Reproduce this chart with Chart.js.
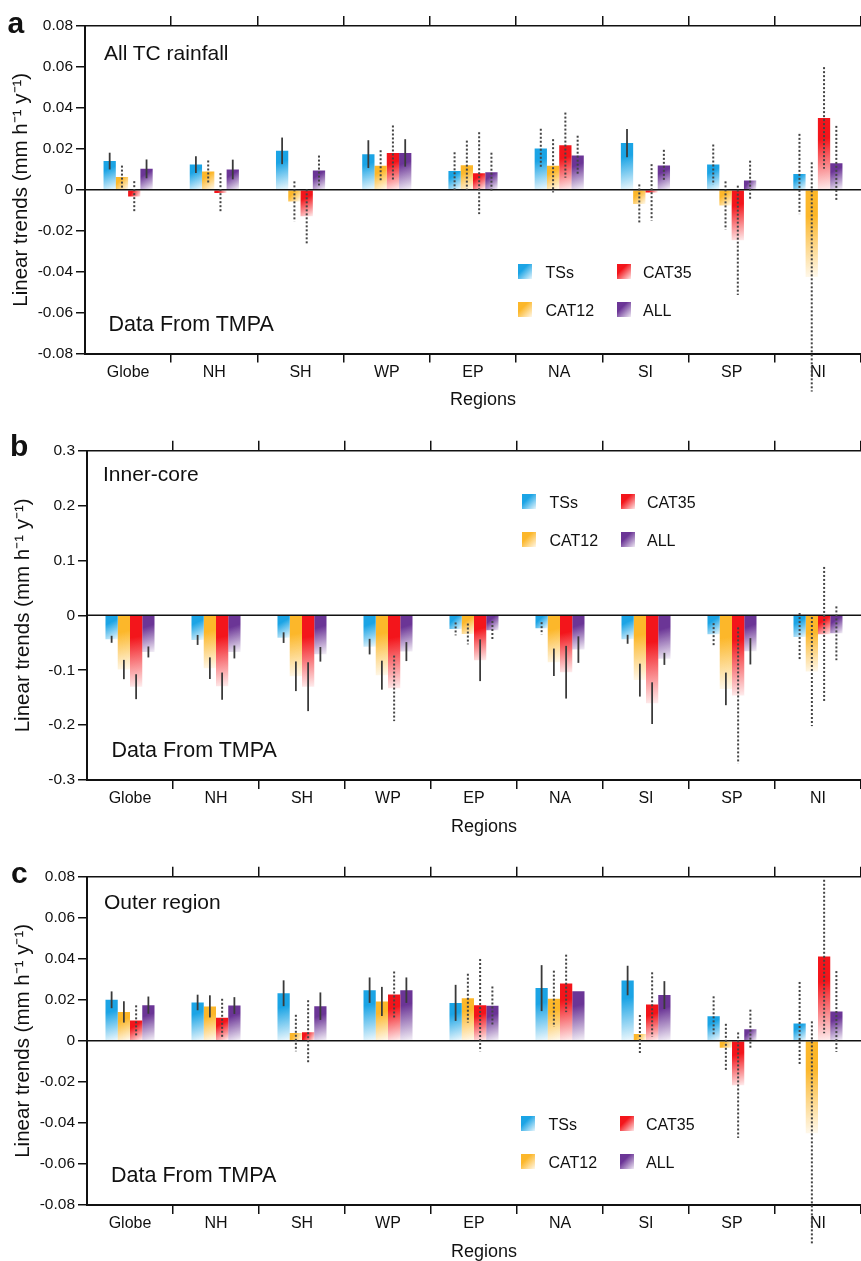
<!DOCTYPE html>
<html>
<head>
<meta charset="utf-8">
<script src="https://cdn.jsdelivr.net/npm/chart.js@4.4.1/dist/chart.umd.min.js"></script>
<style>
  html, body { margin: 0; padding: 0; background: #fff; overflow: hidden; }
  body { width: 861px; height: 1261px; position: relative; font-family: "Liberation Sans", Arial, Helvetica, sans-serif; color: #111; }
  .panel { position: absolute; left: 0; }
  .panel canvas { display: block; }
  .txt { position: absolute; white-space: nowrap; line-height: 1; }
  .sq { position: absolute; width: 14px; height: 15px; }
</style>
</head>
<body>
<div class="panel" style="top:0px"><canvas id="chartA" width="861" height="411"></canvas></div>
<div class="panel" style="top:430px"><canvas id="chartB" width="861" height="408"></canvas></div>
<div class="panel" style="top:855px"><canvas id="chartC" width="861" height="408"></canvas></div>
<script>
// Linear trends of TC rainfall by region (TMPA)
const regions = ['Globe', 'NH', 'SH', 'WP', 'EP', 'NA', 'SI', 'SP', 'NI'];
const seriesNames = ['TSs', 'CAT12', 'CAT35', 'ALL'];
const seriesColors = ['#1ba4e5', '#fcb72a', '#f3151b', '#6b3596'];

// a - All TC rainfall
const aTSs   = [0.0140, 0.0123, 0.0190, 0.0174, 0.0091, 0.0201, 0.0228, 0.0123, 0.0077];
const aCAT12 = [0.0062, 0.0089, -0.0057, 0.0117, 0.0120, 0.0117, -0.0070, -0.0077, -0.0426];
const aCAT35 = [-0.0033, -0.0016, -0.0130, 0.0180, 0.0081, 0.0218, -0.0013, -0.0247, 0.0351];
const aALL   = [0.0102, 0.0099, 0.0094, 0.0180, 0.0086, 0.0167, 0.0119, 0.0045, 0.0130];
const aTSsErr   = [0.0041, 0.0041, 0.0065, 0.0068, 0.0092, 0.0097, 0.0069, 0.0098, 0.0196];
const aCAT12Err = [0.0056, 0.0054, 0.0098, 0.0076, 0.0120, 0.0130, 0.0096, 0.0118, 0.0560];
const aCAT35Err = [0.0075, 0.0097, 0.0132, 0.0134, 0.0200, 0.0159, 0.0138, 0.0267, 0.0248];
const aALLErr   = [0.0046, 0.0048, 0.0073, 0.0067, 0.0095, 0.0097, 0.0076, 0.0097, 0.0182];
// 1 = solid (significant) error bar, 0 = dotted
const aTSsSig   = [1, 1, 1, 1, 0, 0, 1, 0, 0];
const aCAT12Sig = [0, 0, 0, 0, 0, 0, 0, 0, 0];
const aCAT35Sig = [0, 0, 0, 0, 0, 0, 0, 0, 0];
const aALLSig   = [1, 1, 0, 1, 0, 0, 0, 0, 0];

// b - Inner-core
const bTSs   = [-0.0436, -0.0448, -0.0406, -0.0570, -0.0247, -0.0236, -0.0436, -0.0345, -0.0394];
const bCAT12 = [-0.0987, -0.0963, -0.1110, -0.1090, -0.0339, -0.0855, -0.1180, -0.1340, -0.1024];
const bCAT35 = [-0.1300, -0.1290, -0.1300, -0.1330, -0.0818, -0.1036, -0.1600, -0.1460, -0.0345];
const bALL   = [-0.0667, -0.0667, -0.0710, -0.0660, -0.0273, -0.0624, -0.0793, -0.0655, -0.0327];
const bTSsErr   = [0.0064, 0.0091, 0.0097, 0.0142, 0.0118, 0.0112, 0.0082, 0.0203, 0.0436];
const bCAT12Err = [0.0176, 0.0197, 0.0270, 0.0264, 0.0190, 0.0250, 0.0300, 0.0297, 0.0994];
const bCAT35Err = [0.0227, 0.0248, 0.0445, 0.0597, 0.0380, 0.0480, 0.0380, 0.1240, 0.1227];
const bALLErr   = [0.0100, 0.0118, 0.0133, 0.0173, 0.0170, 0.0242, 0.0110, 0.0240, 0.0490];
const bTSsSig   = [1, 1, 1, 1, 0, 0, 1, 0, 0];
const bCAT12Sig = [1, 1, 1, 1, 0, 1, 1, 1, 0];
const bCAT35Sig = [1, 1, 1, 0, 1, 1, 1, 0, 0];
const bALLSig   = [1, 1, 1, 1, 0, 1, 1, 1, 0];

// c - Outer region
const cTSs   = [0.0200, 0.0187, 0.0232, 0.0247, 0.0185, 0.0257, 0.0294, 0.0120, 0.0085];
const cCAT12 = [0.0141, 0.0168, 0.0038, 0.0192, 0.0208, 0.0205, 0.0033, -0.0034, -0.0450];
const cCAT35 = [0.0099, 0.0112, 0.0042, 0.0226, 0.0174, 0.0280, 0.0177, -0.0216, 0.0411];
const cALL   = [0.0174, 0.0172, 0.0169, 0.0247, 0.0171, 0.0242, 0.0223, 0.0056, 0.0143];
const cTSsErr   = [0.0041, 0.0038, 0.0063, 0.0062, 0.0088, 0.0112, 0.0072, 0.0097, 0.0202];
const cCAT12Err = [0.0052, 0.0054, 0.0089, 0.0071, 0.0119, 0.0137, 0.0093, 0.0117, 0.0545];
const cCAT35Err = [0.0074, 0.0093, 0.0156, 0.0112, 0.0225, 0.0140, 0.0157, 0.0257, 0.0374];
const cALLErr   = [0.0042, 0.0041, 0.0067, 0.0062, 0.0094, 0, 0.0068, 0.0096, 0.0197];
const cTSsSig   = [1, 1, 1, 1, 1, 1, 1, 0, 0];
const cCAT12Sig = [1, 1, 0, 1, 0, 0, 0, 0, 0];
const cCAT35Sig = [0, 0, 0, 0, 0, 0, 0, 0, 0];
const cALLSig   = [1, 1, 1, 1, 0, 0, 1, 0, 0];

const fontFamily = '"Liberation Sans", Arial, Helvetica, sans-serif';
const ink = '#111';

// gradient fill per bar: saturated top-left, fading to white bottom-right
const barGradient = {
  id: 'barGradient',
  beforeDatasetsDraw(chart) {
    const ctx = chart.ctx;
    chart.data.datasets.forEach((ds, i) => {
      const c = seriesColors[i];
      chart.getDatasetMeta(i).data.forEach(bar => {
        const hw = bar.width / 2;
        const top = Math.min(bar.y, bar.base);
        const bottom = Math.max(bar.y, bar.base);
        const g = ctx.createLinearGradient(bar.x - hw, top, bar.x + hw, bottom);
        g.addColorStop(0, c);
        g.addColorStop(0.3, c);
        g.addColorStop(1, c + '14');
        bar.options.backgroundColor = g;
      });
    });
  }
};

// zero line + error bars (solid = significant, dotted = not)
const errorBars = {
  id: 'errorBars',
  afterDatasetsDraw(chart) {
    const {ctx, chartArea, scales: {y}} = chart;
    const y0 = y.getPixelForValue(0);
    ctx.save();
    ctx.strokeStyle = ink;
    ctx.lineWidth = 1.5;
    ctx.beginPath();
    ctx.moveTo(chartArea.left, y0);
    ctx.lineTo(chartArea.right, y0);
    ctx.stroke();
    chart.data.datasets.forEach((ds, i) => {
      chart.getDatasetMeta(i).data.forEach((bar, j) => {
        const e = ds.errors[j];
        if (!e) return;
        const v = ds.data[j];
        const solid = ds.solid[j] === 1;
        ctx.beginPath();
        ctx.setLineDash(solid ? [] : [2, 2]);
        ctx.lineWidth = solid ? 1.8 : 2;
        ctx.strokeStyle = solid ? '#3a3a3a' : '#444';
        ctx.moveTo(bar.x, y.getPixelForValue(v + e));
        ctx.lineTo(bar.x, y.getPixelForValue(v - e));
        ctx.stroke();
      });
    });
    ctx.restore();
  }
};

function hideFirst(c) {
  return c.index === 0 ? 'rgba(0,0,0,0)' : ink;
}

function makePanel(id, p) {
  const datasets = seriesNames.map((name, i) => ({
    label: name,
    data: p.values[i],
    errors: p.errors[i],
    solid: p.solid[i],
    xAxisID: 'x',
    yAxisID: 'y',
    backgroundColor: ctx => seriesColors[ctx.datasetIndex],
    borderWidth: 0,
    categoryPercentage: 0.57,
    barPercentage: 1.0
  }));

  return new Chart(document.getElementById(id), {
    type: 'bar',
    data: { labels: regions, datasets: datasets },
    options: {
      responsive: false,
      animation: false,
      events: [],
      layout: { padding: { left: p.padLeft, top: p.padTop, right: 0, bottom: 0 } },
      plugins: { legend: { display: false }, tooltip: { enabled: false } },
      scales: {
        x: {
          type: 'category',
          position: 'bottom',
          offset: true,
          grid: { offset: true, drawOnChartArea: false, drawTicks: true, tickLength: 9, color: hideFirst, lineWidth: 1.5 },
          border: { display: true, color: ink, width: 2 },
          ticks: { color: ink, font: { family: fontFamily, size: 16 }, padding: 0, maxRotation: 0, autoSkip: false },
          title: { display: true, text: '    Regions', color: ink, font: { family: fontFamily, size: 18 }, padding: { top: 0, bottom: 0 } },
          afterFit: s => { s.height = p.bottomH; }
        },
        xTop: {
          type: 'category',
          axis: 'x',
          position: 'top',
          offset: true,
          grid: { offset: true, drawOnChartArea: false, drawTicks: true, tickLength: 10, color: hideFirst, lineWidth: 1.5 },
          border: { display: true, color: ink, width: 1.5 },
          ticks: { display: false },
          afterFit: s => { s.height = 10; }
        },
        y: {
          min: p.min,
          max: p.max,
          grid: { drawOnChartArea: false, drawTicks: true, tickLength: 9, color: ink, lineWidth: 1.5 },
          border: { display: true, color: ink, width: 2 },
          ticks: {
            stepSize: p.step,
            color: ink,
            padding: 3,
            font: { family: fontFamily, size: 15.5 },
            callback: v => (Math.abs(v) < 1e-9 ? '0' : String(parseFloat(v.toFixed(2))))
          },
          title: { display: true, text: 'Linear trends (mm h\u207B\u00B9 y\u207B\u00B9)', color: ink, font: { family: fontFamily, size: 20.5 }, padding: { top: 0, bottom: 0 } },
          afterFit: s => { s.width = 76; }
        }
      }
    },
    plugins: [barGradient, errorBars]
  });
}

makePanel('chartA', {
  values: [aTSs, aCAT12, aCAT35, aALL],
  errors: [aTSsErr, aCAT12Err, aCAT35Err, aALLErr],
  solid: [aTSsSig, aCAT12Sig, aCAT35Sig, aALLSig],
  min: -0.08, max: 0.08, step: 0.02,
  padLeft: 9, padTop: 16, bottomH: 57.5
});
makePanel('chartB', {
  values: [bTSs, bCAT12, bCAT35, bALL],
  errors: [bTSsErr, bCAT12Err, bCAT35Err, bALLErr],
  solid: [bTSsSig, bCAT12Sig, bCAT35Sig, bALLSig],
  min: -0.3, max: 0.3, step: 0.1,
  padLeft: 11, padTop: 10.7, bottomH: 58
});
makePanel('chartC', {
  values: [cTSs, cCAT12, cCAT35, cALL],
  errors: [cTSsErr, cCAT12Err, cCAT35Err, cALLErr],
  solid: [cTSsSig, cCAT12Sig, cCAT35Sig, cALLSig],
  min: -0.08, max: 0.08, step: 0.02,
  padLeft: 11, padTop: 11.7, bottomH: 58
});

// text overlays (panel letters, inner titles, legends)
function addText(text, x, baseline, size, bold) {
  const d = document.createElement('div');
  d.className = 'txt';
  d.textContent = text;
  d.style.left = x + 'px';
  d.style.top = (baseline - 0.8465 * size) + 'px';
  d.style.fontSize = size + 'px';
  if (bold) d.style.fontWeight = 'bold';
  document.body.appendChild(d);
}

function addLegend(x0, y0) {
  seriesNames.forEach((name, i) => {
    const col = Math.floor(i / 2), row = i % 2;
    const c = seriesColors[i];
    const sq = document.createElement('div');
    sq.className = 'sq';
    sq.style.left = (x0 + col * 99) + 'px';
    sq.style.top = (y0 + row * 38) + 'px';
    sq.style.background = 'linear-gradient(135deg, ' + c + ' 0%, ' + c + ' 35%, ' + c + '1a 100%)';
    document.body.appendChild(sq);
    addText(name, x0 + (col ? 125 : 27.5), y0 + 15 + row * 38, 16, false);
  });
}

addText('a', 7.5, 33, 30, true);
addText('b', 10, 456, 30, true);
addText('c', 11, 883, 30, true);

addText('All TC rainfall', 104, 60, 21, false);
addText('Data From TMPA', 108.5, 331.7, 21.5, false);
addText('Inner-core', 103, 480.7, 21, false);
addText('Data From TMPA', 111.5, 757.7, 21.5, false);
addText('Outer region', 104, 908.3, 21, false);
addText('Data From TMPA', 111, 1183.3, 21.5, false);

addLegend(518, 263.5);
addLegend(522, 493.5);
addLegend(521, 1115.5);
</script>
</body>
</html>
